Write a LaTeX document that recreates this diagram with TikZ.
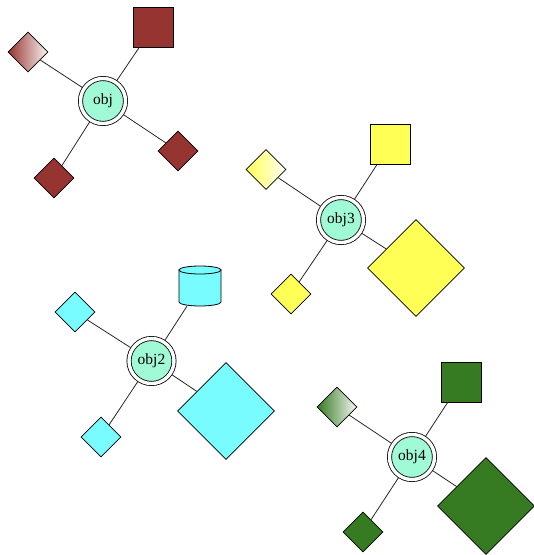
\documentclass[tikz,border=0pt]{standalone}
\usepackage{fontspec}
\setmainfont{Liberation Serif}
\usetikzlibrary{shapes.geometric}
\definecolor{cbrown}{RGB}{150,52,49}
\definecolor{cyellow}{RGB}{255,255,85}
\definecolor{ccyan}{RGB}{120,252,255}
\definecolor{cgreen}{RGB}{54,122,34}
\definecolor{caqua}{RGB}{160,250,214}
\tikzset{
  hub/.style={circle, draw=black, line width=0.8pt, double=white, double distance=3.4pt,
    fill=caqua, minimum size=45pt, inner sep=0pt, outer sep=2.3pt,
    font=\fontsize{15.5}{18}\selectfont},
  sq/.style={rectangle, draw=black, line width=0.8pt, fill=#1, minimum size=40pt, inner sep=0pt},
  dia/.style={diamond, draw=black, line width=0.8pt, fill=#1, minimum width=40pt, minimum height=40pt, inner sep=0pt},
  bigdia/.style={diamond, draw=black, line width=0.8pt, fill=#1, minimum width=97pt, minimum height=97pt, inner sep=0pt},
  gdia/.style={diamond, draw=black, line width=0.8pt, left color=#1, right color=white!95!#1, minimum width=40pt, minimum height=40pt, inner sep=0pt},
  cylbox/.style={rectangle, minimum width=42pt, minimum height=40pt, inner sep=0pt},
  cylline/.style={draw=black, line width=0.8pt, fill=#1},
  link/.style={draw=black!85, line width=0.8pt}
}
\begin{document}
\begin{tikzpicture}[x=1pt,y=-1pt]
\useasboundingbox (0,0) rectangle (534,555);
% group 1
\node[hub] (o1) at (103,101) {obj};
\node[sq=cbrown] (o1a) at (153,27) {};
\node[gdia=cbrown] (o1b) at (28,52) {};
\node[dia=cbrown] (o1c) at (178,151) {};
\node[dia=cbrown] (o1d) at (54,178) {};
% group 3
\node[hub] (o3) at (341,220) {obj3};
\node[sq=cyellow] (o3a) at (390,144.5) {};
\node[gdia=cyellow] (o3b) at (266,169.5) {};
\node[bigdia=cyellow] (o3c) at (416,268) {};
\node[dia=cyellow] (o3d) at (291,294) {};
% group 2
\node[hub] (o2) at (151.5,361) {obj2};
\node[cylbox] (o2a) at (200,286) {};
\path[cylline=ccyan] (179,270) -- (179,302) arc[start angle=180, end angle=0, x radius=21, y radius=4] -- (221,270) -- cycle;
\draw[cylline=ccyan] (200,270) ellipse [x radius=21, y radius=4];
\node[dia=ccyan] (o2b) at (75,312) {};
\node[bigdia=ccyan] (o2c) at (226,411) {};
\node[dia=ccyan] (o2d) at (101,437) {};
% group 4
\node[hub] (o4) at (412,457) {obj4};
\node[sq=cgreen] (o4a) at (461,382) {};
\node[gdia=cgreen] (o4b) at (337,407) {};
\node[bigdia=cgreen] (o4c) at (486,506) {};
\node[dia=cgreen] (o4d) at (363,532) {};
% links
\foreach \g in {1,2,3,4}{
  \foreach \s in {a,b,c,d}{
    \draw[link] (o\g) -- (o\g\s);
  }
}
\end{tikzpicture}
\end{document}
